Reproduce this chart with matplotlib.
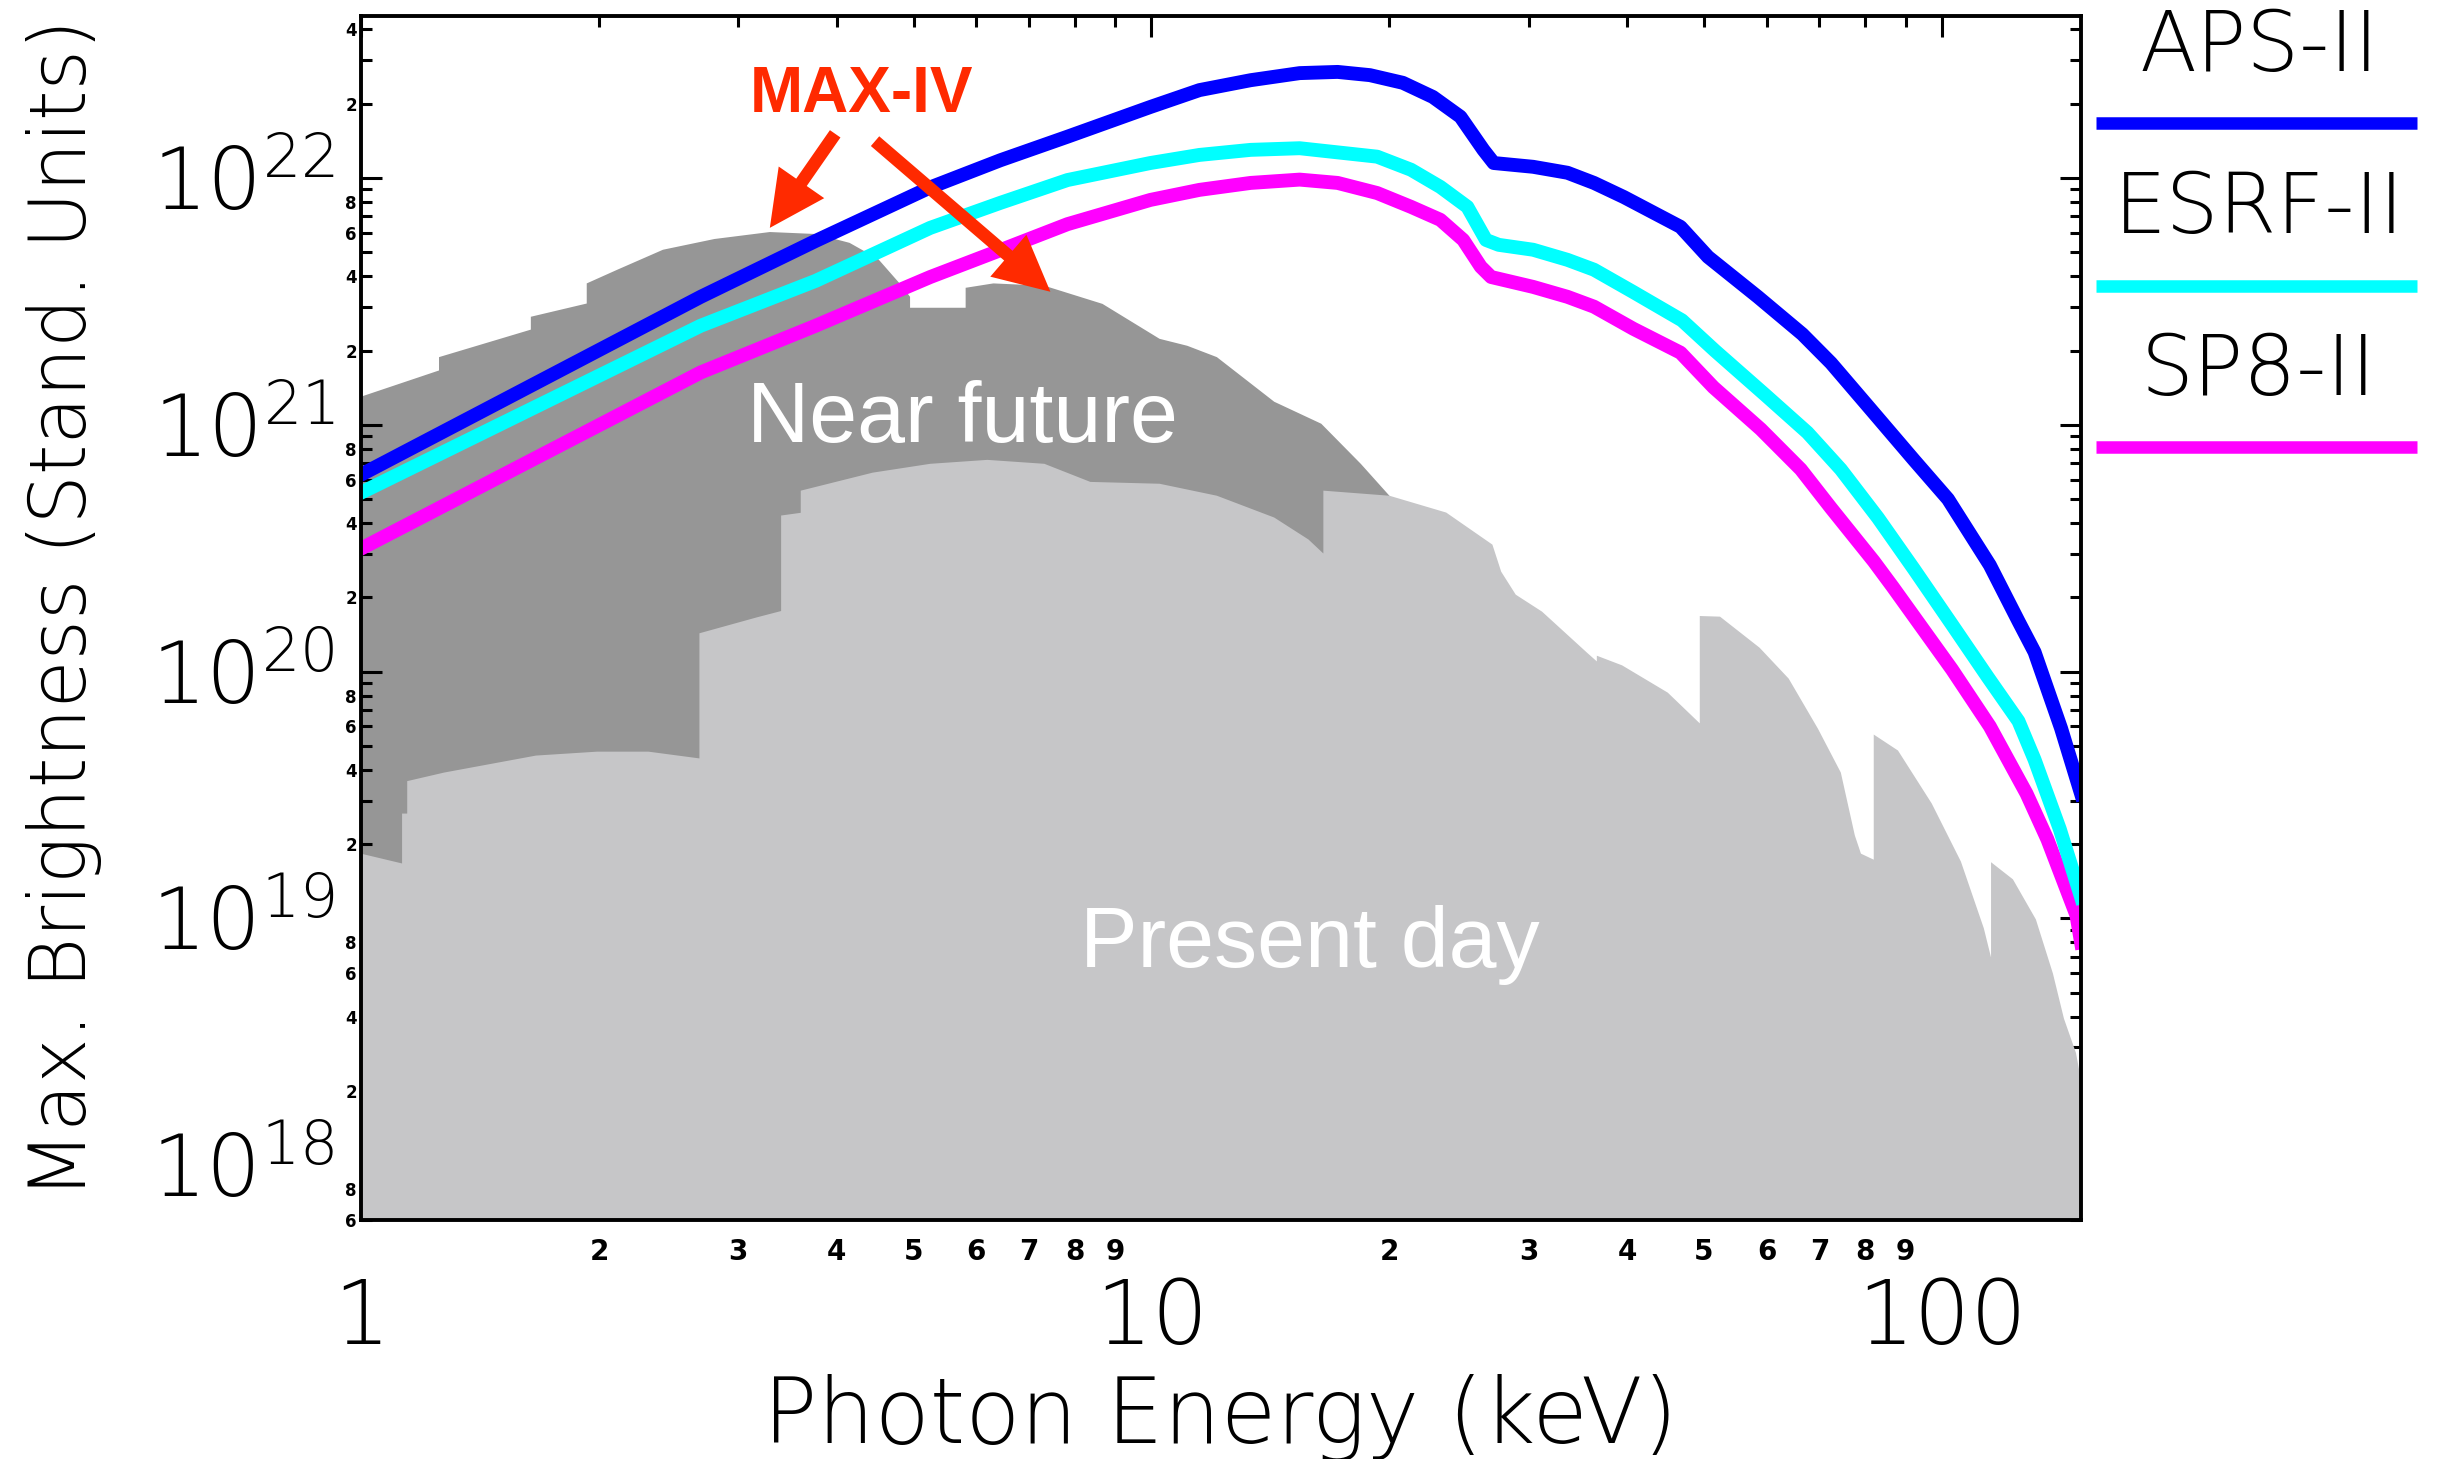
import matplotlib
matplotlib.use('Agg')
import matplotlib.pyplot as plt
from matplotlib.lines import Line2D

# ---------------- data ----------------
aps_E = [1.0, 2.69, 3.76, 5.25, 6.44, 7.83, 9.97, 11.5, 13.35, 15.4, 17.2, 18.9, 20.8,
         22.7, 24.6, 26.3, 27.1, 30.4, 33.6, 36.3, 39.6, 46.7, 50.6, 58.5, 66.6, 72.4,
         81.0, 92.2, 101.8, 115, 125, 131, 141.5, 150]
aps_B = [6.28e20, 3.30e21, 5.56e21, 9.16e21, 1.18e22, 1.47e22, 1.94e22, 2.27e22, 2.49e22,
         2.66e22, 2.69e22, 2.61e22, 2.43e22, 2.13e22, 1.77e22, 1.30e22, 1.15e22, 1.11e22,
         1.05e22, 9.55e21, 8.37e21, 6.34e21, 4.79e21, 3.30e21, 2.33e21, 1.78e21, 1.17e21,
         7.2e20, 5.0e20, 2.7e20, 1.6e20, 1.2e20, 5.9e19, 3.2e19]

esrf_E = [1.0, 2.69, 3.76, 5.25, 6.44, 7.83, 9.97, 11.5, 13.35, 15.4, 17.2, 19.3, 21.3,
          23.2, 25.1, 26.5, 27.5, 30.4, 33.6, 36.3, 40.7, 46.9, 51.6, 59.8, 67.6, 74.5,
          83.0, 92.2, 103, 114.3, 125, 131, 141, 150]
esrf_B = [5.31e20, 2.52e21, 3.83e21, 6.28e21, 7.93e21, 9.81e21, 1.15e22, 1.24e22, 1.30e22,
          1.32e22, 1.27e22, 1.22e22, 1.08e22, 9.20e21, 7.64e21, 5.61e21, 5.36e21, 5.12e21,
          4.66e21, 4.25e21, 3.45e21, 2.65e21, 2.0e21, 1.32e21, 9.3e20, 6.6e20, 4.2e20,
          2.6e20, 1.55e20, 9.5e19, 6.3e19, 4.4e19, 2.3e19, 1.22e19]

sp8_E = [1.0, 2.69, 3.76, 5.25, 6.44, 7.83, 9.97, 11.5, 13.35, 15.4, 17.2, 19.3, 21.3,
         23.2, 24.8, 26.1, 26.9, 30.4, 33.6, 36.3, 40.7, 46.7, 51.4, 59.0, 66.3, 72.4,
         82.0, 86.7, 103, 115, 128, 136, 148, 150]
sp8_B = [3.15e20, 1.63e21, 2.52e21, 3.97e21, 5.1e21, 6.5e21, 8.15e21, 8.95e21, 9.55e21,
         9.85e21, 9.55e21, 8.69e21, 7.64e21, 6.77e21, 5.61e21, 4.37e21, 3.97e21, 3.62e21,
         3.30e21, 3.01e21, 2.45e21, 1.96e21, 1.42e21, 9.6e20, 6.6e20, 4.6e20, 2.8e20,
         2.2e20, 1.02e20, 6.0e19, 3.2e19, 2.09e19, 1.03e19, 8.0e18]

near_E = [1.0, 1.255, 1.255, 1.64, 1.64, 1.93, 1.93, 2.11, 2.41, 2.80, 3.29, 3.76, 4.15,
          4.51, 4.83, 4.95, 4.95, 5.82, 5.82, 6.31, 7.32, 8.67, 10.24, 11.1, 12.1, 14.3,
          16.4, 18.4, 20.0]
near_B = [1.30e21, 1.66e21, 1.88e21, 2.43e21, 2.74e21, 3.10e21, 3.74e21, 4.25e21, 5.12e21,
          5.66e21, 6.04e21, 5.93e21, 5.46e21, 4.70e21, 3.66e21, 3.30e21, 2.98e21, 2.98e21,
          3.59e21, 3.74e21, 3.66e21, 3.09e21, 2.23e21, 2.09e21, 1.88e21, 1.24e21, 1.01e21,
          6.95e20, 5.16e20]

present_E = [1.0, 1.127, 1.127, 1.144, 1.144, 1.274, 1.665, 1.99, 2.31, 2.68, 2.68, 3.17,
             3.40, 3.40, 3.60, 3.60, 4.44, 5.25, 6.20, 7.32, 8.37, 10.24, 12.1, 14.3, 15.8,
             16.5, 16.5, 20.0, 23.6, 27.0, 27.7, 28.9, 31.2, 35.6, 36.6, 36.6, 39.4, 45.0,
             49.4, 49.4, 52.4, 58.8, 64.0, 69.7, 74.5, 77.6, 79.0, 82.0, 82.0, 88.0, 97.1,
             105.7, 113, 115.4, 115.4, 123, 131.5, 138.2, 142.7, 147.8, 150]
present_B = [1.83e19, 1.67e19, 2.66e19, 2.66e19, 3.60e19, 3.90e19, 4.57e19, 4.74e19, 4.74e19,
             4.45e19, 1.43e20, 1.66e20, 1.76e20, 4.29e20, 4.40e20, 5.41e20, 6.40e20, 6.95e20,
             7.21e20, 6.95e20, 5.87e20, 5.77e20, 5.16e20, 4.21e20, 3.43e20, 3.01e20, 5.41e20,
             5.16e20, 4.41e20, 3.27e20, 2.54e20, 2.05e20, 1.75e20, 1.19e20, 1.10e20, 1.16e20,
             1.06e20, 8.22e19, 6.17e19, 1.68e20, 1.67e20, 1.25e20, 9.37e19, 5.87e19, 3.90e19,
             2.17e19, 1.83e19, 1.73e19, 5.56e19, 4.79e19, 2.92e19, 1.70e19, 9.12e18, 6.95e18,
             1.69e19, 1.44e19, 9.91e18, 5.98e18, 3.93e18, 2.85e18, 2.21e18]

series_names = ['APS-II', 'ESRF-II', 'SP8-II']
series_colors = ['#0000FF', '#00FFFF', '#FF00FF']

x_major = [1, 10, 100]
x_major_labels = ['1', '10', '100']
x_minor = [2, 3, 4, 5, 6, 7, 8, 9, 20, 30, 40, 50, 60, 70, 80, 90]
x_minor_labels = ['2', '3', '4', '5', '6', '7', '8', '9'] * 2
y_major_exp = [18, 19, 20, 21, 22]

XMIN, XMAX = 1.0, 150.0
YMIN, YMAX = 6.0e17, 4.53e22

# ---------------- figure ----------------
plt.rcParams['font.family'] = ['DejaVu Sans']
fig = plt.figure(figsize=(24.46, 14.59), dpi=100)
ax = fig.add_axes([0.1476, 0.1638, 0.7032, 0.8252])
ax.set_xscale('log')
ax.set_yscale('log')

floor = 1e10
ax.fill_between(near_E, near_B, floor, color='#969696', lw=0, zorder=1)
ax.fill_between(present_E, present_B, floor, color='#C6C6C8', lw=0, zorder=2)

for E, B, c in [(sp8_E, sp8_B, series_colors[2]),
                (esrf_E, esrf_B, series_colors[1]),
                (aps_E, aps_B, series_colors[0])]:
    ax.plot(E, B, color=c, lw=10, solid_joinstyle='round', zorder=3)

ax.set_xlim(XMIN, XMAX)
ax.set_ylim(YMIN, YMAX)

# ticks
ax.set_xticks(x_major, labels=x_major_labels, fontsize=64, fontweight=200)
ax.set_xticks(x_minor, labels=x_minor_labels, minor=True, fontsize=20, fontweight='bold')
y_major = [10.0 ** e for e in y_major_exp]
ax.set_yticks(y_major, labels=[r'$\mathregular{10^{%d}}$' % e for e in y_major_exp],
              fontsize=62, fontweight=200)
y_minor, y_minor_labels = [], []
for e in range(17, 23):
    for m in range(2, 10):
        v = m * 10.0 ** e
        if YMIN <= v <= YMAX:
            y_minor.append(v)
            y_minor_labels.append(str(m) if m % 2 == 0 else '')
ax.set_yticks(y_minor, labels=y_minor_labels, minor=True, fontsize=12, fontweight='bold')

ax.tick_params(which='both', direction='in', top=True, right=True, width=2.2, color='black')
ax.tick_params(which='major', length=15)
ax.tick_params(which='minor', length=8)
ax.tick_params(axis='x', which='major', pad=40)
ax.tick_params(axis='x', which='minor', pad=13)
ax.tick_params(axis='y', which='major', pad=19)
ax.tick_params(axis='y', which='minor', pad=3)
for s in ax.spines.values():
    s.set_linewidth(2.8)
    s.set_zorder(5)

# axis labels
fig.text(0.4988, 0.011, 'Photon Energy (keV)', fontsize=65, fontweight=200,
         ha='center', va='baseline')
fig.text(86 / 2446, 0.5833, 'Max. Brightness (Stand. Units)', fontsize=56, fontweight=200,
         rotation=90, rotation_mode='anchor', ha='center', va='baseline')

# annotations
ax.text(0.2907, 0.9203, 'MAX-IV', transform=ax.transAxes, color='#FF2A00',
        fontsize=46, fontweight='bold', family=['Liberation Sans', 'DejaVu Sans'],
        ha='center', va='baseline', zorder=6)
arrow_style = 'simple,head_length=0.95,head_width=0.95,tail_width=0.22'
ax.annotate('', xy=(3.29, 6.28e21), xytext=(3.98, 1.51e22),
            arrowprops=dict(arrowstyle=arrow_style, color='#FF2A00', lw=0,
                            mutation_scale=42, shrinkA=0, shrinkB=0), zorder=6)
ax.annotate('', xy=(7.45, 3.46e21), xytext=(4.47, 1.41e22),
            arrowprops=dict(arrowstyle=arrow_style, color='#FF2A00', lw=0,
                            mutation_scale=42, shrinkA=0, shrinkB=0), zorder=6)

ax.text(0.3494, 0.6462, 'Near future', transform=ax.transAxes, color='white',
        fontsize=62, family=['Liberation Sans', 'DejaVu Sans'], ha='center', va='baseline',
        zorder=4)
ax.text(0.5517, 0.2101, 'Present day', transform=ax.transAxes, color='white',
        fontsize=62, family=['Liberation Sans', 'DejaVu Sans'], ha='center', va='baseline',
        zorder=4)

# legend (manual)
leg_text_y = [0.9513, 0.8403, 0.7293]
leg_line_y = [0.9157, 0.8040, 0.6936]
for name, c, ty, ly in zip(series_names, series_colors, leg_text_y, leg_line_y):
    fig.text(0.9235, ty, name, fontsize=60, fontweight=200, ha='center', va='baseline')
    fig.add_artist(Line2D([0.857, 0.988], [ly, ly], color=c, lw=9,
                          transform=fig.transFigure, solid_capstyle='butt'))

fig.savefig('out.png', dpi=100)
